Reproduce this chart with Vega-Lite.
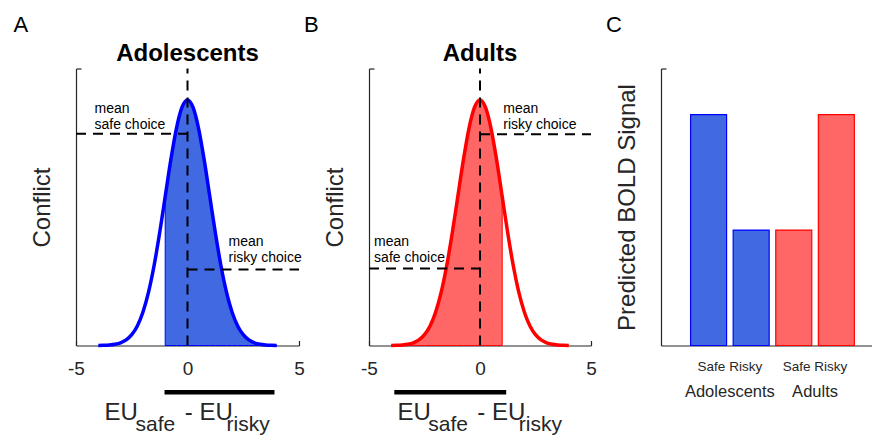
{
  "$schema": "https://vega.github.io/schema/vega-lite/v6.json",
  "padding": {"left": 13, "top": 13.5, "right": 0, "bottom": 0},
  "bounds": "flush",
  "spacing": 70,
  "config": {
    "view": {"stroke": null},
    "font": "Liberation Sans",
    "axis": {"grid": false, "domainColor": "#262626", "tickColor": "#262626", "labelColor": "#262626", "titleColor": "#262626", "titleFontWeight": "normal", "domainWidth": 1.2, "tickWidth": 1.2},
    "text": {"font": "Liberation Sans", "color": "#000000"}
  },
  "datasets": {
    "curve": [
      {"x": -4, "y": 0.00013}, {"x": -3.75, "y": 0.00035}, {"x": -3.5, "y": 0.00087}, {"x": -3.25, "y": 0.00203},
      {"x": -3, "y": 0.00443}, {"x": -2.75, "y": 0.00909}, {"x": -2.5, "y": 0.01753}, {"x": -2.25, "y": 0.03174},
      {"x": -2, "y": 0.05399}, {"x": -1.75, "y": 0.08628}, {"x": -1.5, "y": 0.12952}, {"x": -1.25, "y": 0.18265},
      {"x": -1, "y": 0.24197}, {"x": -0.75, "y": 0.30114}, {"x": -0.5, "y": 0.35207}, {"x": -0.25, "y": 0.38667},
      {"x": 0, "y": 0.39894},
      {"x": 0.25, "y": 0.38667}, {"x": 0.5, "y": 0.35207}, {"x": 0.75, "y": 0.30114}, {"x": 1, "y": 0.24197},
      {"x": 1.25, "y": 0.18265}, {"x": 1.5, "y": 0.12952}, {"x": 1.75, "y": 0.08628}, {"x": 2, "y": 0.05399},
      {"x": 2.25, "y": 0.03174}, {"x": 2.5, "y": 0.01753}, {"x": 2.75, "y": 0.00909}, {"x": 3, "y": 0.00443},
      {"x": 3.25, "y": 0.00203}, {"x": 3.5, "y": 0.00087}, {"x": 3.75, "y": 0.00035}, {"x": 4, "y": 0.00013}
    ],
    "xtitleBig": [{"x": -3.72, "y": -0.1218, "text": "EU"}, {"x": -0.12, "y": -0.1218, "text": "- EU"}],
    "xtitleSub": [{"x": -2.33, "y": -0.1397, "text": "safe"}, {"x": 1.75, "y": -0.1397, "text": "risky"}],
    "zeroLine": [{"x": 0, "y": 0, "y2": 0.45}]
  },
  "hconcat": [
    {
      "width": 223,
      "height": 277,
      "encoding": {
        "x": {"field": "x", "type": "quantitative", "scale": {"domain": [-5, 5], "nice": false, "zero": false},
              "axis": {"values": [-5, 0, 5], "title": null, "labelFontSize": 19, "tickSize": -5, "labelPadding": 19, "labelFlush": false, "labelOverlap": false,
                       "labelExpr": "datum.value < 0 ? '-' + abs(datum.value) : datum.label"}},
        "y": {"field": "y", "type": "quantitative", "scale": {"domain": [0, 0.45], "nice": false},
              "axis": {"values": [0.45], "labels": false, "tickSize": -5, "title": "Conflict", "titleFontSize": 24, "titlePadding": 21}}
      },
      "layer": [
        {"data": {"name": "curve"}, "transform": [{"filter": "datum.x >= -1"}],
         "mark": {"type": "area", "interpolate": "monotone", "fill": "#4169E1", "stroke": "#0000FF", "strokeWidth": 1, "opacity": 1}},
        {"data": {"name": "curve"}, "mark": {"type": "line", "interpolate": "monotone", "stroke": "#0000FF", "strokeWidth": 3.5}},
        {"data": {"name": "zeroLine"}, "mark": {"type": "rule", "color": "#000000", "strokeWidth": 2, "strokeDash": [10, 7]},
         "encoding": {"y2": {"field": "y2"}}},
        {"data": {"values": [{"x": -5, "x2": 0, "y": 0.344}, {"x": 0, "x2": 5, "y": 0.1235}]},
         "mark": {"type": "rule", "color": "#000000", "strokeWidth": 2, "strokeDash": [10, 7]},
         "encoding": {"x2": {"field": "x2"}}},
        {"data": {"values": [{"x": -1.03, "x2": 3.9, "y": -0.076}]},
         "mark": {"type": "rule", "color": "#000000", "strokeWidth": 4.5},
         "encoding": {"x2": {"field": "x2"}}},
        {"data": {"values": [{"x": -4.17, "y": 0.377, "text": "mean\nsafe choice"}, {"x": 1.84, "y": 0.161, "text": "mean\nrisky choice"}]},
         "mark": {"type": "text", "align": "left", "baseline": "alphabetic", "fontSize": 14, "lineBreak": "\n", "lineHeight": 16},
         "encoding": {"text": {"field": "text"}}},
        {"data": {"name": "xtitleBig"}, "mark": {"type": "text", "align": "left", "baseline": "alphabetic", "fontSize": 24, "color": "#262626"},
         "encoding": {"text": {"field": "text"}}},
        {"data": {"name": "xtitleSub"}, "mark": {"type": "text", "align": "left", "baseline": "alphabetic", "fontSize": 21, "color": "#262626"},
         "encoding": {"text": {"field": "text"}}},
        {"data": {"values": [{"x": 0, "y": 0.4614, "text": "Adolescents"}]},
         "mark": {"type": "text", "align": "center", "baseline": "alphabetic", "fontSize": 24, "fontWeight": "bold"},
         "encoding": {"text": {"field": "text"}}},
        {"data": {"values": [{"x": -7.8, "y": 0.537, "text": "A"}]},
         "mark": {"type": "text", "align": "left", "baseline": "top", "fontSize": 22},
         "encoding": {"text": {"field": "text"}}}
      ]
    },
    {
      "width": 222,
      "height": 277,
      "encoding": {
        "x": {"field": "x", "type": "quantitative", "scale": {"domain": [-5, 5], "nice": false, "zero": false},
              "axis": {"values": [-5, 0, 5], "title": null, "labelFontSize": 19, "tickSize": -5, "labelPadding": 19, "labelFlush": false, "labelOverlap": false,
                       "labelExpr": "datum.value < 0 ? '-' + abs(datum.value) : datum.label"}},
        "y": {"field": "y", "type": "quantitative", "scale": {"domain": [0, 0.45], "nice": false},
              "axis": {"values": [0.45], "labels": false, "tickSize": -5, "title": "Conflict", "titleFontSize": 24, "titlePadding": 21}}
      },
      "layer": [
        {"data": {"name": "curve"}, "transform": [{"filter": "datum.x <= 1"}],
         "mark": {"type": "area", "interpolate": "monotone", "fill": "#FF6666", "stroke": "#FF0000", "strokeWidth": 1, "opacity": 1}},
        {"data": {"name": "curve"}, "mark": {"type": "line", "interpolate": "monotone", "stroke": "#FF0000", "strokeWidth": 3.5}},
        {"data": {"name": "zeroLine"}, "mark": {"type": "rule", "color": "#000000", "strokeWidth": 2, "strokeDash": [10, 7]},
         "encoding": {"y2": {"field": "y2"}}},
        {"data": {"values": [{"x": -5, "x2": 0, "y": 0.125}, {"x": 0, "x2": 5, "y": 0.343}]},
         "mark": {"type": "rule", "color": "#000000", "strokeWidth": 2, "strokeDash": [10, 7]},
         "encoding": {"x2": {"field": "x2"}}},
        {"data": {"values": [{"x": -3.86, "x2": 1.18, "y": -0.076}]},
         "mark": {"type": "rule", "color": "#000000", "strokeWidth": 4.5},
         "encoding": {"x2": {"field": "x2"}}},
        {"data": {"values": [{"x": -4.77, "y": 0.161, "text": "mean\nsafe choice"}, {"x": 1.05, "y": 0.377, "text": "mean\nrisky choice"}]},
         "mark": {"type": "text", "align": "left", "baseline": "alphabetic", "fontSize": 14, "lineBreak": "\n", "lineHeight": 16},
         "encoding": {"text": {"field": "text"}}},
        {"data": {"name": "xtitleBig"}, "mark": {"type": "text", "align": "left", "baseline": "alphabetic", "fontSize": 24, "color": "#262626"},
         "encoding": {"text": {"field": "text"}}},
        {"data": {"name": "xtitleSub"}, "mark": {"type": "text", "align": "left", "baseline": "alphabetic", "fontSize": 21, "color": "#262626"},
         "encoding": {"text": {"field": "text"}}},
        {"data": {"values": [{"x": 0, "y": 0.4614, "text": "Adults"}]},
         "mark": {"type": "text", "align": "center", "baseline": "alphabetic", "fontSize": 24, "fontWeight": "bold"},
         "encoding": {"text": {"field": "text"}}},
        {"data": {"values": [{"x": -7.93, "y": 0.537, "text": "B"}]},
         "mark": {"type": "text", "align": "left", "baseline": "top", "fontSize": 22},
         "encoding": {"text": {"field": "text"}}}
      ]
    },
    {
      "width": 211,
      "height": 277,
      "encoding": {
        "x": {"field": "x", "type": "quantitative", "scale": {"domain": [0, 4.72], "nice": false, "zero": false},
              "axis": {"values": [], "labels": false, "ticks": false, "title": null}},
        "y": {"field": "y", "type": "quantitative", "scale": {"domain": [0, 0.6], "nice": false},
              "axis": {"values": [0.6], "labels": false, "tickSize": -5, "title": "Predicted BOLD Signal", "titleFontSize": 24, "titlePadding": 21}}
      },
      "layer": [
        {"data": {"values": [
           {"group": "Adolescents", "choice": "Safe", "x": 1, "y": 0.5},
           {"group": "Adolescents", "choice": "Risky", "x": 2, "y": 0.25},
           {"group": "Adults", "choice": "Safe", "x": 3, "y": 0.25},
           {"group": "Adults", "choice": "Risky", "x": 4, "y": 0.5}]},
         "mark": {"type": "bar", "size": 36, "strokeWidth": 1.2},
         "encoding": {
           "fill": {"field": "group", "type": "nominal", "scale": {"domain": ["Adolescents", "Adults"], "range": ["#4169E1", "#FF6666"]}, "legend": null},
           "stroke": {"field": "group", "type": "nominal", "scale": {"domain": ["Adolescents", "Adults"], "range": ["#0000FF", "#FF0000"]}, "legend": null}
         }},
        {"data": {"values": [{"x": 1.5, "y": -0.0563, "text": "Safe Risky"}, {"x": 3.5, "y": -0.0563, "text": "Safe Risky"}]},
         "mark": {"type": "text", "align": "center", "baseline": "alphabetic", "fontSize": 13.5, "color": "#262626"},
         "encoding": {"text": {"field": "text"}}},
        {"data": {"values": [{"x": 1.5, "y": -0.1126, "text": "Adolescents"}, {"x": 3.5, "y": -0.1126, "text": "Adults"}]},
         "mark": {"type": "text", "align": "center", "baseline": "alphabetic", "fontSize": 16.5, "color": "#262626"},
         "encoding": {"text": {"field": "text"}}},
        {"data": {"values": [{"x": -1.41, "y": 0.716, "text": "C"}]},
         "mark": {"type": "text", "align": "left", "baseline": "top", "fontSize": 22},
         "encoding": {"text": {"field": "text"}}}
      ]
    }
  ]
}
